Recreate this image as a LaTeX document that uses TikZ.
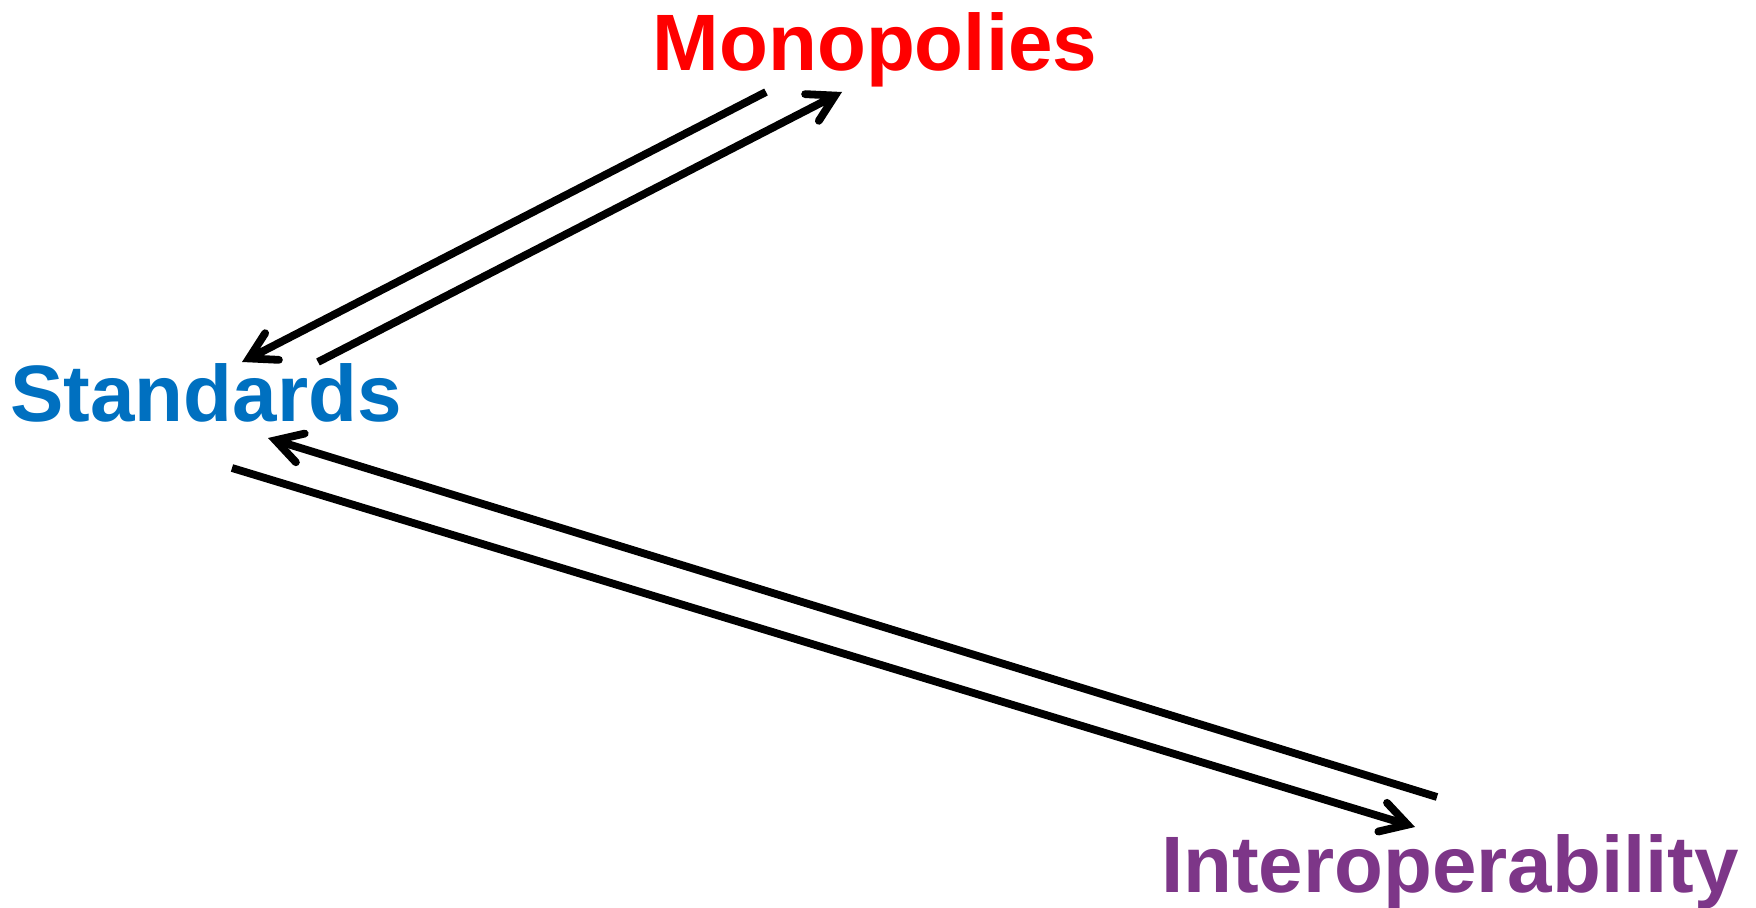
\documentclass[tikz,border=0pt]{standalone}
\usepackage{fontspec}
\setmainfont{Liberation Sans}
\usetikzlibrary{arrows.meta}
\definecolor{monored}{RGB}{255,0,0}
\definecolor{stdblue}{RGB}{0,112,192}
\definecolor{interpurple}{RGB}{125,54,136}
\tikzset{
  label/.style={inner sep=0pt, anchor=base, font=\bfseries\fontsize{40pt}{48pt}\selectfont},
  conn/.style={line width=3.9pt, -{Straight Barb[length=13pt,width=15pt,line cap=round,line join=miter]}}
}
\begin{document}
\begin{tikzpicture}[x=0.5pt,y=-0.5pt]
\useasboundingbox (0,0) rectangle (1756,908);
\node[label, text=monored] (mono) at (875,71) {Monopolies};
\node[label, text=stdblue] (std) at (206,422) {Standards};
\node[label, text=interpurple] (inter) at (1450,892) {Interoperability};
% connector end points
\coordinate (m1) at (766,92);
\coordinate (s1) at (242,362);
\coordinate (s2) at (318,362);
\coordinate (m2) at (842,92);
\coordinate (i3) at (1437,797);
\coordinate (s3) at (268,438);
\coordinate (s4) at (232,468);
\coordinate (i4) at (1415,827);
\draw[conn] (m1) -- (s1);
\draw[conn] (s2) -- (m2);
\draw[conn] (i3) -- (s3);
\draw[conn] (s4) -- (i4);
\end{tikzpicture}
\end{document}
